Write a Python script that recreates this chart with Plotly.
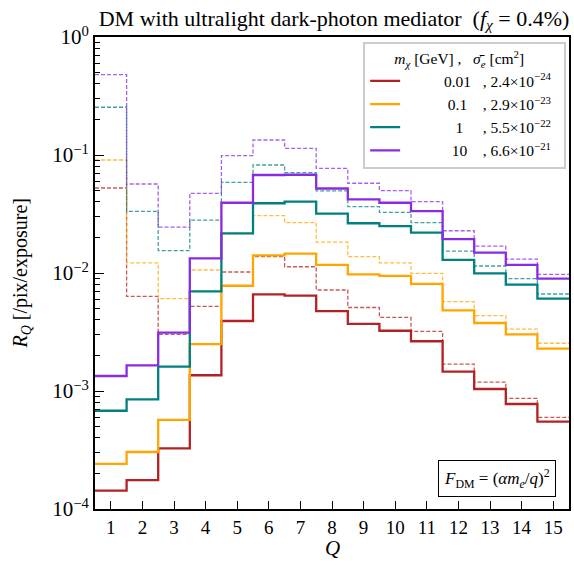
import plotly.graph_objects as go

# ---------------- data ----------------
Q = list(range(1, 16))

masses = ["0.01", "0.1", "1", "10"]
sigmas = ["2.4×10<sup>−24</sup>", "2.9×10<sup>−23</sup>", "5.5×10<sup>−22</sup>", "6.6×10<sup>−21</sup>"]
colors = ["#b22222", "#ffa500", "#008080", "#8a2be2"]
dash_colors = ["rgba(178,34,34,0.75)", "rgba(255,165,0,0.75)", "rgba(0,128,128,0.75)", "rgba(138,43,226,0.75)"]

solid_red = [1.43e-4, 1.76e-4, 3.27e-4, 1.36e-3, 3.92e-3, 6.6e-3, 6.43e-3, 4.76e-3, 3.70e-3, 3.24e-3, 2.64e-3, 1.46e-3, 1.04e-3, 7.76e-4, 5.5e-4]
solid_orange = [2.41e-4, 3.04e-4, 5.7e-4, 2.5e-3, 7.8e-3, 0.0141, 0.0146, 0.0117, 0.00975, 0.00944, 0.0081, 0.00483, 0.00377, 0.00302, 0.00229]
solid_teal = [6.8e-4, 8.5e-4, 1.61e-3, 7.0e-3, 0.0217, 0.039, 0.0402, 0.0318, 0.0264, 0.025, 0.022, 0.0129, 0.00993, 0.00796, 0.00606]
solid_purple = [1.34e-3, 1.65e-3, 3.12e-3, 1.33e-2, 0.0394, 0.0677, 0.068, 0.052, 0.042, 0.0394, 0.0335, 0.0194, 0.0149, 0.0117, 0.00895]

dashed_red = [0.0525, 0.00634, 3.02e-3, 5.22e-3, 0.0102, 0.01375, 0.0113, 7.18e-3, 5.1e-3, 4.2e-3, 3.2e-3, 1.69e-3, 1.19e-3, 8.67e-4, 5.98e-4]
dashed_orange = [0.0907, 0.0122, 6.06e-3, 0.0106, 0.0215, 0.0306, 0.0267, 0.0183, 0.01375, 0.0122, 0.00993, 5.71e-3, 4.35e-3, 3.35e-3, 2.54e-3]
dashed_teal = [0.254, 0.0333, 0.0155, 0.0281, 0.0587, 0.0823, 0.0708, 0.0496, 0.0365, 0.0327, 0.0267, 0.0153, 0.01146, 0.00895, 0.00664]
dashed_purple = [0.48, 0.0568, 0.0245, 0.0473, 0.0987, 0.134, 0.114, 0.077, 0.0576, 0.0499, 0.0402, 0.0228, 0.0169, 0.0131, 0.00975]

y_tickvals = [1e-4, 1e-3, 1e-2, 1e-1, 1]
y_ticktext = ["10<sup>−4</sup>", "10<sup>−3</sup>", "10<sup>−2</sup>", "10<sup>−1</sup>", "10<sup>0</sup>"]

solids = [solid_red, solid_orange, solid_teal, solid_purple]
dasheds = [dashed_red, dashed_orange, dashed_teal, dashed_purple]

FONT = "Liberation Serif"
NB = "\u00a0"

edges = [q - 0.5 for q in Q] + [Q[-1] + 0.5]

def step_y(vals):
    return list(vals) + [vals[-1]]

fig = go.Figure()

for vals, c in zip(dasheds, dash_colors):
    fig.add_trace(go.Scatter(x=edges, y=step_y(vals), mode="lines", line_shape="hv",
                             line=dict(color=c, width=1.3, dash="4px,2px"),
                             showlegend=False, hoverinfo="skip"))

lead = [10, 11, 13, 12]
trail = [3, 4, 5, 4]
for vals, c, m, s, l, t in zip(solids, colors, masses, sigmas, lead, trail):
    name = NB * l + m + NB * t + ", " + s + NB * 2
    fig.add_trace(go.Scatter(x=edges, y=step_y(vals), mode="lines", line_shape="hv",
                             line=dict(color=c, width=2.3), name=name))

minor_vals = [k * 10.0 ** n for n in range(-4, 0) for k in range(2, 10)]

LFS = 15.5
fig.update_layout(
    width=574, height=565,
    margin=dict(l=95, r=3, t=37, b=56),
    plot_bgcolor="white", paper_bgcolor="white",
    font=dict(family=FONT, color="black"),
    title=dict(text="DM with ultralight dark-photon mediator" + NB + NB + "(<i>f</i><sub><i>χ</i></sub>" + NB + "=" + NB + "0.4%)",
               x=0.582, xanchor="center", y=0.968, yanchor="middle",
               font=dict(size=22, family=FONT, color="black")),
    xaxis=dict(range=[0.5, 15.5], tickmode="array", tickvals=Q, ticktext=[str(q) for q in Q],
               ticks="inside", ticklen=8, tickwidth=1.2, tickcolor="black",
               showline=True, linecolor="black", linewidth=1.8, mirror=True,
               showgrid=False, zeroline=False,
               tickfont=dict(size=19, family=FONT, color="black")),
    yaxis=dict(type="log", range=[-4, 0], tickmode="array", tickvals=y_tickvals, ticktext=y_ticktext,
               ticks="inside", ticklen=9, tickwidth=1.2, tickcolor="black",
               minor=dict(tickmode="array", tickvals=minor_vals, ticks="inside", ticklen=5,
                          tickwidth=1, tickcolor="black", showgrid=False),
               showline=True, linecolor="black", linewidth=1.8, mirror=True,
               showgrid=False, zeroline=False,
               tickfont=dict(size=21, family=FONT, color="black")),
    legend=dict(x=0.994, xanchor="right", y=0.989, yanchor="top",
                bgcolor="white", bordercolor="#cccccc", borderwidth=2,
                font=dict(size=LFS, family=FONT, color="black"),
                title=dict(text=NB * 7 + "<i>m</i><sub><i>χ</i></sub> [GeV] ," + NB * 3 + "<i>σ̄</i><sub><i>e</i></sub> [cm<sup>2</sup>]",
                           font=dict(size=LFS, family=FONT, color="black")),
                tracegroupgap=0, itemwidth=30),
    annotations=[
        dict(text="<i>R</i><sub><i>Q</i></sub> [/pix/exposure]", xref="paper", yref="paper",
             x=-0.157, y=0.5, xanchor="center", yanchor="middle", textangle=-90,
             showarrow=False, font=dict(size=20, family=FONT, color="black")),
        dict(text="<i>Q</i>", xref="paper", yref="paper", x=0.5, y=-0.083,
             xanchor="center", yanchor="middle", showarrow=False,
             font=dict(size=21, family=FONT, color="black")),
        dict(text="<i>F</i><sub>DM</sub>" + NB + "=" + NB + "(<i>αm</i><sub><i>e</i></sub>/<i>q</i>)<sup>2</sup>",
             xref="paper", yref="paper", x=0.848, y=0.065, xanchor="center", yanchor="middle",
             showarrow=False, bordercolor="black", borderwidth=1, borderpad=5, bgcolor="white",
             font=dict(size=17, family=FONT, color="black")),
    ],
)

fig.write_html("out.html")
